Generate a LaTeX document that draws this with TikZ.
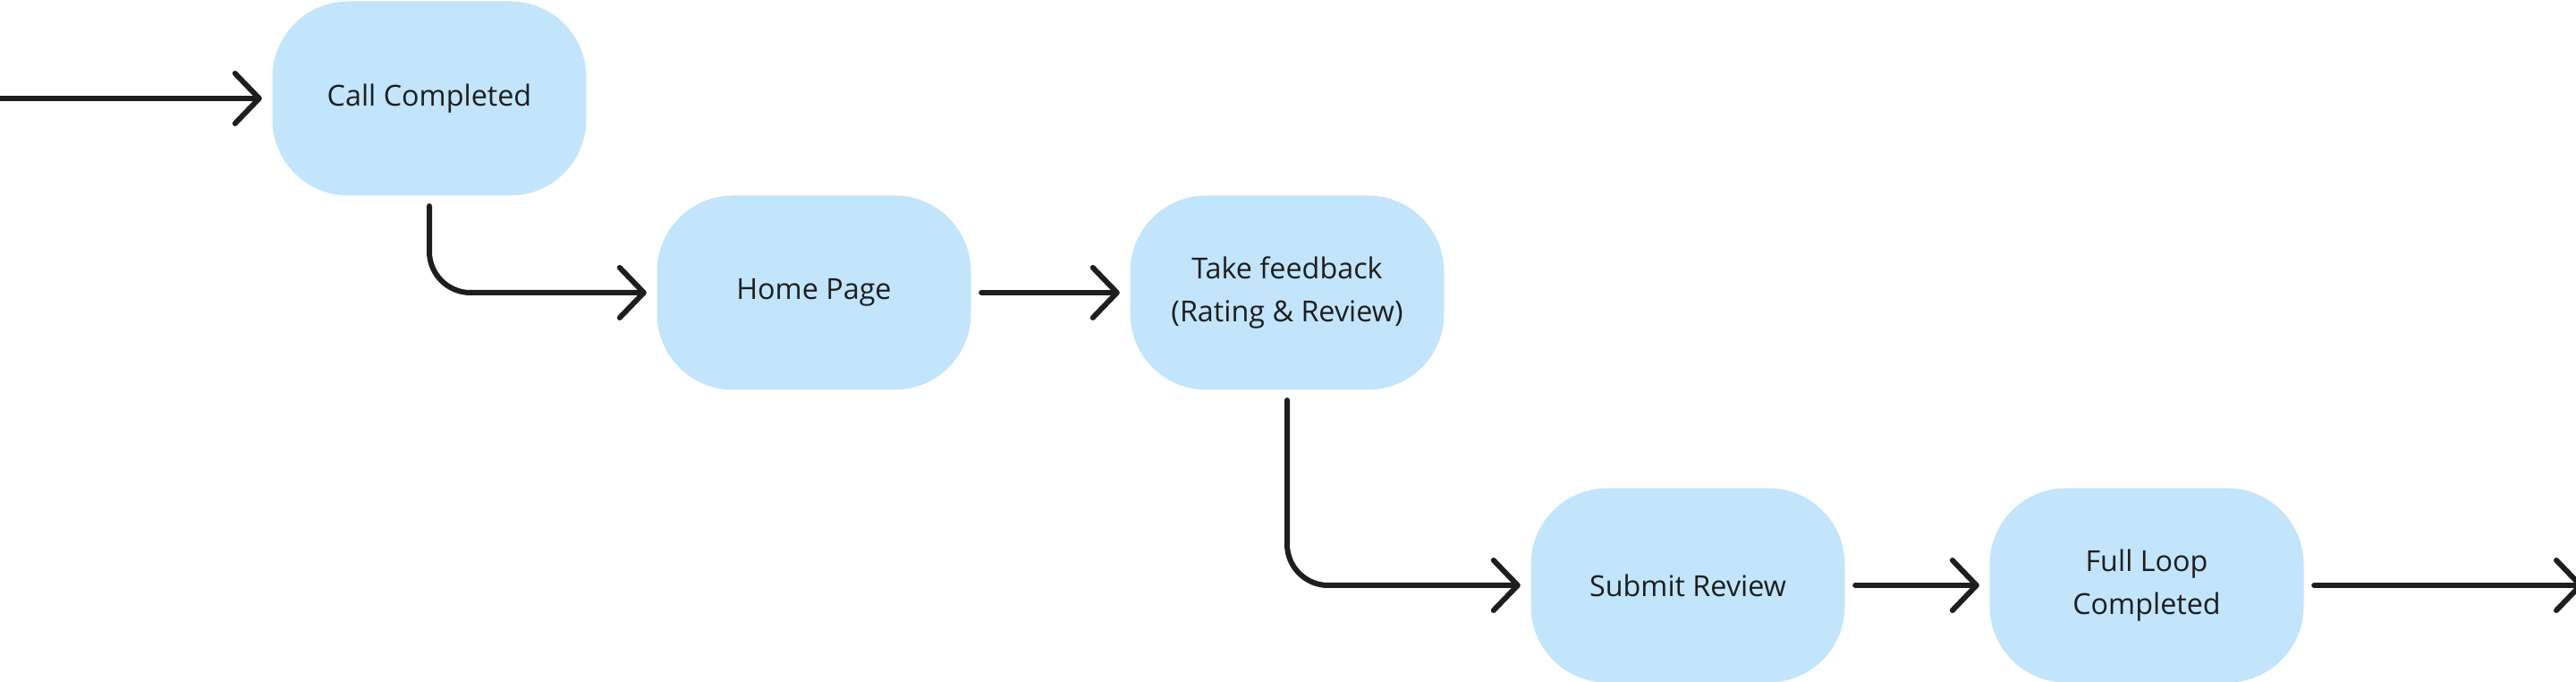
\documentclass[tikz,border=0pt]{standalone}
\usepackage{fontspec}
\setmainfont{Open Sans}
\usepackage{xcolor}
\usepackage{tikz}
\usetikzlibrary{arrows.meta,positioning}
\definecolor{boxblue}{HTML}{C2E5FC}
\definecolor{ink}{HTML}{1E1E1E}
\tikzset{
  state/.style={rectangle,rounded corners=0.85cm,fill=boxblue,text=ink,
    minimum width=3.51cm,minimum height=2.17cm,align=center,
    font=\fontsize{9.2}{13.8}\selectfont},
  flow/.style={draw=ink,line width=0.06cm,line cap=round,line join=round,
    -{Straight Barb[length=0.27cm,width=0.56cm,round]},
    shorten >=0.11cm,shorten <=0.11cm,rounded corners=0.46cm}
}
\begin{document}
\begin{tikzpicture}
\useasboundingbox (0,0) rectangle (28.8,7.62);
\node[state](call) at (4.80,6.52){Call Completed};
\node[state](home) at (9.10,4.35){Home Page};
\node[state](feedback) at (14.39,4.35){Take feedback\\(Rating \& Review)};
\node[state](submit) at (18.87,1.08){Submit Review};
\node[state](loop) at (24.00,1.08){Full Loop\\Completed};
\coordinate(in) at (-0.2,6.52);
\coordinate(out) at (28.88,1.08);
\draw[flow,shorten <=0pt](in)--(call);
\draw[flow](call.south)|-(home.west);
\draw[flow](home)--(feedback);
\draw[flow](feedback.south)|-(submit.west);
\draw[flow](submit)--(loop);
\draw[flow,shorten >=0pt](loop)--(out);
\end{tikzpicture}
\end{document}
